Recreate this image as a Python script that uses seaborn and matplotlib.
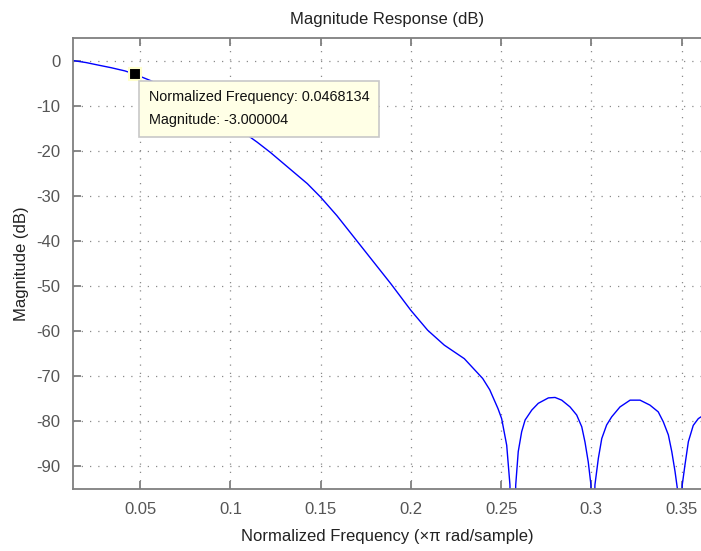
import matplotlib
matplotlib.use("Agg")
import matplotlib.pyplot as plt
import seaborn as sns
import pandas as pd

# Magnitude response (x in ×π rad/sample, y in dB)
# -130 marks the nulls, which drop below the visible range
freq = [0.0127, 0.020, 0.026, 0.034, 0.0415, 0.0468, 0.0517, 0.0554, 0.065, 0.075,
        0.085, 0.095, 0.105, 0.1148, 0.1222, 0.1352, 0.1426, 0.150, 0.159, 0.1685,
        0.1889, 0.200, 0.2093, 0.2185, 0.2296, 0.2398, 0.2437, 0.2483, 0.2503, 0.2531,
        0.2549, 0.2562, 0.2581, 0.2595, 0.2614, 0.2633, 0.2670, 0.2706, 0.2762, 0.2799,
        0.2836, 0.2882, 0.2919, 0.2947, 0.2965, 0.2983, 0.2998, 0.3006, 0.3020, 0.3039,
        0.3058, 0.3085, 0.3113, 0.3159, 0.3215, 0.3270, 0.3325, 0.3371, 0.3399, 0.3427,
        0.3446, 0.3464, 0.3477, 0.3488, 0.3504, 0.3519, 0.3538, 0.3565, 0.3593, 0.3608]
mag_db = [0.0, -0.45, -0.95, -1.6, -2.3, -3.0, -3.8, -4.4, -6.1, -8.1,
          -10.3, -12.7, -15.3, -18.1, -20.4, -24.8, -27.3, -30.3, -34.4, -39.2,
          -49.5, -55.4, -59.8, -63.1, -66.1, -70.5, -73.0, -77.2, -79.4, -85.3,
          -94.1, -130.0, -94.1, -86.7, -82.3, -79.7, -77.5, -76.0, -74.8, -74.7,
          -75.3, -76.8, -78.6, -81.2, -84.6, -89.0, -94.1, -130.0, -94.1, -88.2,
          -83.8, -80.8, -79.0, -76.8, -75.3, -75.3, -76.4, -77.9, -80.1, -83.0,
          -86.7, -91.1, -94.9, -130.0, -94.1, -89.7, -84.5, -80.9, -79.4, -79.0]

x_ticks = [0.05, 0.1, 0.15, 0.2, 0.25, 0.3, 0.35]
x_tick_labels = ["0.05", "0.1", "0.15", "0.2", "0.25", "0.3", "0.35"]
y_ticks = [0, -10, -20, -30, -40, -50, -60, -70, -80, -90]

# data cursor
cursor_freq = 0.0468134
cursor_mag = -3.000004

df = pd.DataFrame({"freq": freq, "mag": mag_db})

sns.set_style("ticks")
plt.rcParams['font.family'] = ['Liberation Sans', 'DejaVu Sans']
plt.rcParams['axes.unicode_minus'] = False

fig = plt.figure(figsize=(7.01, 5.51), dpi=100)
ax = fig.add_axes([73 / 701, 62 / 551, 1 - 73 / 701, 451 / 551])

sns.lineplot(data=df, x="freq", y="mag", ax=ax, color="#0000ff",
             linewidth=1.0, sort=False, estimator=None)

ax.set_xlim(0.0127, 0.3608)
ax.set_ylim(-95, 5)
ax.set_xticks(x_ticks)
ax.set_xticklabels(x_tick_labels)
ax.set_yticks(y_ticks)

grid_kw = dict(color="#8a8a8a", linewidth=0.9, linestyle=(0, (1.0, 5.6)))
ax.grid(True, **grid_kw)

spine_col = "#7f7f7f"
for s in ["left", "bottom", "top"]:
    ax.spines[s].set_color(spine_col)
    ax.spines[s].set_linewidth(1.3)
ax.spines["right"].set_visible(False)

ax.tick_params(axis="both", direction="in", length=6, width=1.3,
               color=spine_col, labelcolor="#555555", labelsize=12, pad=9)
ax.tick_params(axis="x", top=True)

ax.set_title("Magnitude Response (dB)", fontsize=12, color="#222222", pad=10)
ax.set_xlabel("Normalized Frequency (\u00d7\u03c0 rad/sample)", fontsize=12,
              color="#222222", labelpad=9)
ax.set_ylabel("Magnitude (dB)", fontsize=12, color="#222222", labelpad=5)

# data cursor marker and tip
ax.plot([cursor_freq], [cursor_mag], marker="s", markersize=9,
        markerfacecolor="black", markeredgecolor="#ffffcc",
        markeredgewidth=1.5, zorder=5)
ax.annotate(f"Normalized Frequency: {cursor_freq:.7f}\nMagnitude: {cursor_mag:.6f}",
            xy=(cursor_freq, cursor_mag), xycoords="data",
            xytext=(14, -16), textcoords="offset pixels",
            ha="left", va="top", fontsize=10.4, color="#111111",
            linespacing=1.85,
            bbox=dict(boxstyle="square,pad=0.65", facecolor="#ffffe6",
                      edgecolor="#c8c8c8", linewidth=1.2),
            zorder=6)

fig.savefig("out.png", dpi=100)
